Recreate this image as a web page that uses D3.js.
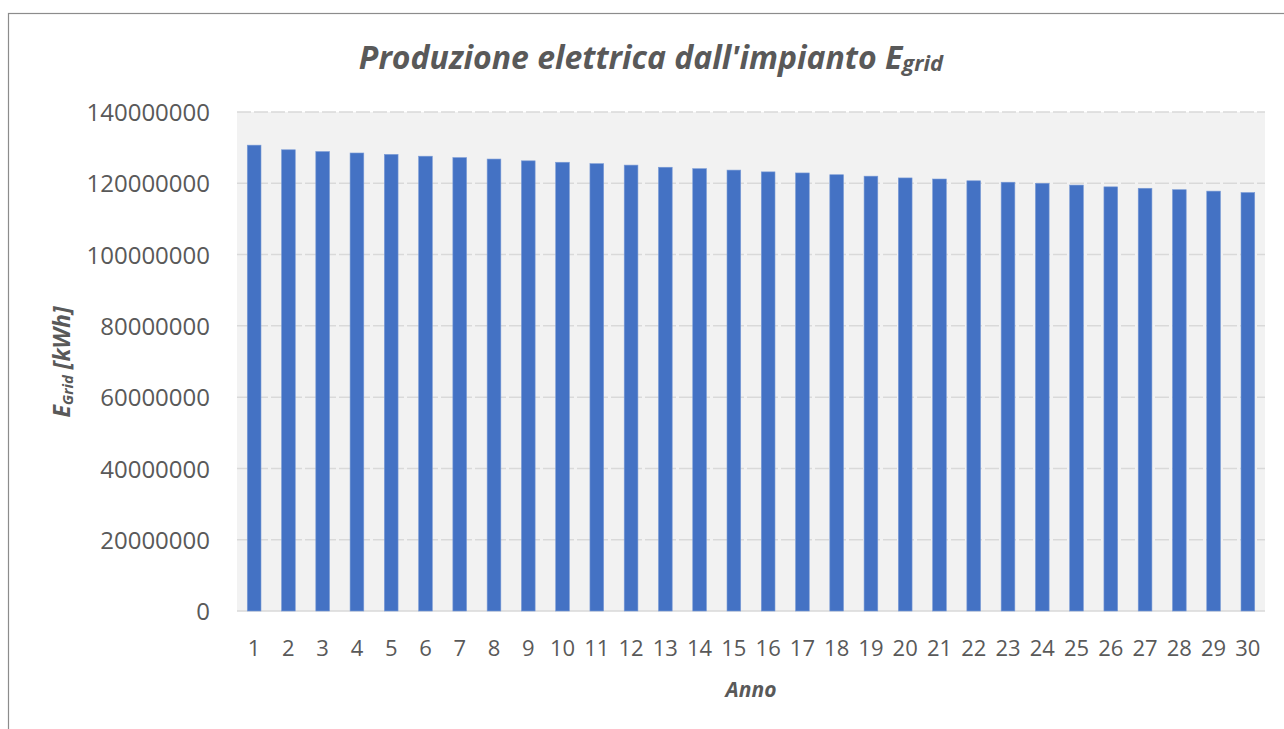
<html>

<head>
    <script src="https://cdn.jsdelivr.net/npm/d3@7"></script>
    <style>
        body { margin: 0; background: #fff; }
        text { font-family: "Open Sans", "Noto Sans", sans-serif; fill: #595959; }
    </style>
</head>

<body>
    <svg id="chart" width="1284" height="729"></svg>
    <script>
        // anni 1..30
        var anni = d3.range(1, 31);
        // produzione elettrica annua [kWh]
        var egrid = [
            130700000, 129400000, 128900000, 128500000, 128100000, 127600000,
            127200000, 126800000, 126300000, 125900000, 125500000, 125100000,
            124500000, 124100000, 123700000, 123200000, 122900000, 122400000,
            122000000, 121500000, 121200000, 120700000, 120300000, 120000000,
            119500000, 119000000, 118600000, 118200000, 117800000, 117400000
        ];
        var yTicks = [0, 20000000, 40000000, 60000000, 80000000, 100000000, 120000000, 140000000];

        var svg = d3.select("#chart");
        var pLeft = 237, pRight = 1265, pTop = 112, pBottom = 611;

        // bordo del grafico
        svg.append("rect")
            .attr("x", 8.5).attr("y", 13.5)
            .attr("width", 1400).attr("height", 800)
            .attr("fill", "none").attr("stroke", "#8c8c8c").attr("stroke-width", 1.2);

        var x = d3.scaleBand()
            .domain(anni)
            .range([pLeft, pRight])
            .paddingInner(0.6)
            .paddingOuter(0.3);

        var y = d3.scaleLinear()
            .domain([0, 140000000])
            .range([pBottom, pTop]);

        // area del tracciato
        svg.append("rect")
            .attr("x", pLeft).attr("y", pTop)
            .attr("width", pRight - pLeft).attr("height", pBottom - pTop)
            .attr("fill", "#f2f2f2");

        // griglia
        svg.append("g")
            .selectAll("line")
            .data(yTicks)
            .enter()
            .append("line")
            .attr("x1", pLeft).attr("x2", pRight)
            .attr("y1", (d) => y(d)).attr("y2", (d) => y(d))
            .attr("stroke", "#d9d9d9")
            .attr("stroke-width", 1.5)
            .attr("stroke-dasharray", (d) => d == 0 ? null : "14,3");

        // barre
        svg.append("g")
            .selectAll("rect")
            .data(anni)
            .enter()
            .append("rect")
            .attr("x", (d) => x(d))
            .attr("width", x.bandwidth())
            .attr("y", (d, i) => y(egrid[i]))
            .attr("height", (d, i) => y(0) - y(egrid[i]))
            .attr("fill", "#4472c4")
            .attr("stroke", "#7a9bd6")
            .attr("stroke-width", 0.6);

        // asse y
        var yAxis = svg.append("g")
            .attr("transform", "translate(" + (pLeft - 27) + ",0)")
            .call(d3.axisLeft(y).tickValues(yTicks).tickFormat(d3.format("d")).tickSize(0).tickPadding(0));
        yAxis.select(".domain").remove();
        yAxis.selectAll("text")
            .attr("font-size", 24)
            .attr("fill", "#595959")
            .style("font-family", "'Open Sans', sans-serif")
            .attr("dy", "0.36em");

        // asse x
        var xAxis = svg.append("g")
            .attr("transform", "translate(0," + pBottom + ")")
            .call(d3.axisBottom(x).tickSize(0).tickPadding(0));
        xAxis.select(".domain").remove();
        xAxis.selectAll("text")
            .attr("font-size", 22)
            .attr("fill", "#595959")
            .style("font-family", "'Open Sans', sans-serif")
            .attr("y", 45)
            .attr("dy", 0);

        // titolo
        var title = svg.append("text")
            .attr("x", 651).attr("y", 69)
            .attr("text-anchor", "middle")
            .attr("font-size", 32)
            .attr("font-weight", "bold")
            .attr("font-style", "italic");
        title.append("tspan").text("Produzione elettrica dall'impianto E");
        title.append("tspan").attr("font-size", 22).attr("dy", 2).text("grid");

        // titolo asse x
        svg.append("text")
            .attr("x", 751).attr("y", 697)
            .attr("text-anchor", "middle")
            .attr("font-size", 21)
            .attr("font-weight", "bold")
            .attr("font-style", "italic")
            .text("Anno");

        // titolo asse y
        var yt = svg.append("text")
            .attr("transform", "translate(70,362) rotate(-90)")
            .attr("text-anchor", "middle")
            .attr("font-size", 23)
            .attr("font-weight", "bold")
            .attr("font-style", "italic");
        yt.append("tspan").text("E");
        yt.append("tspan").attr("font-size", 15).attr("dy", 3).text("Grid");
        yt.append("tspan").attr("dy", -3).text(" [kWh]");
    </script>
</body>

</html>
